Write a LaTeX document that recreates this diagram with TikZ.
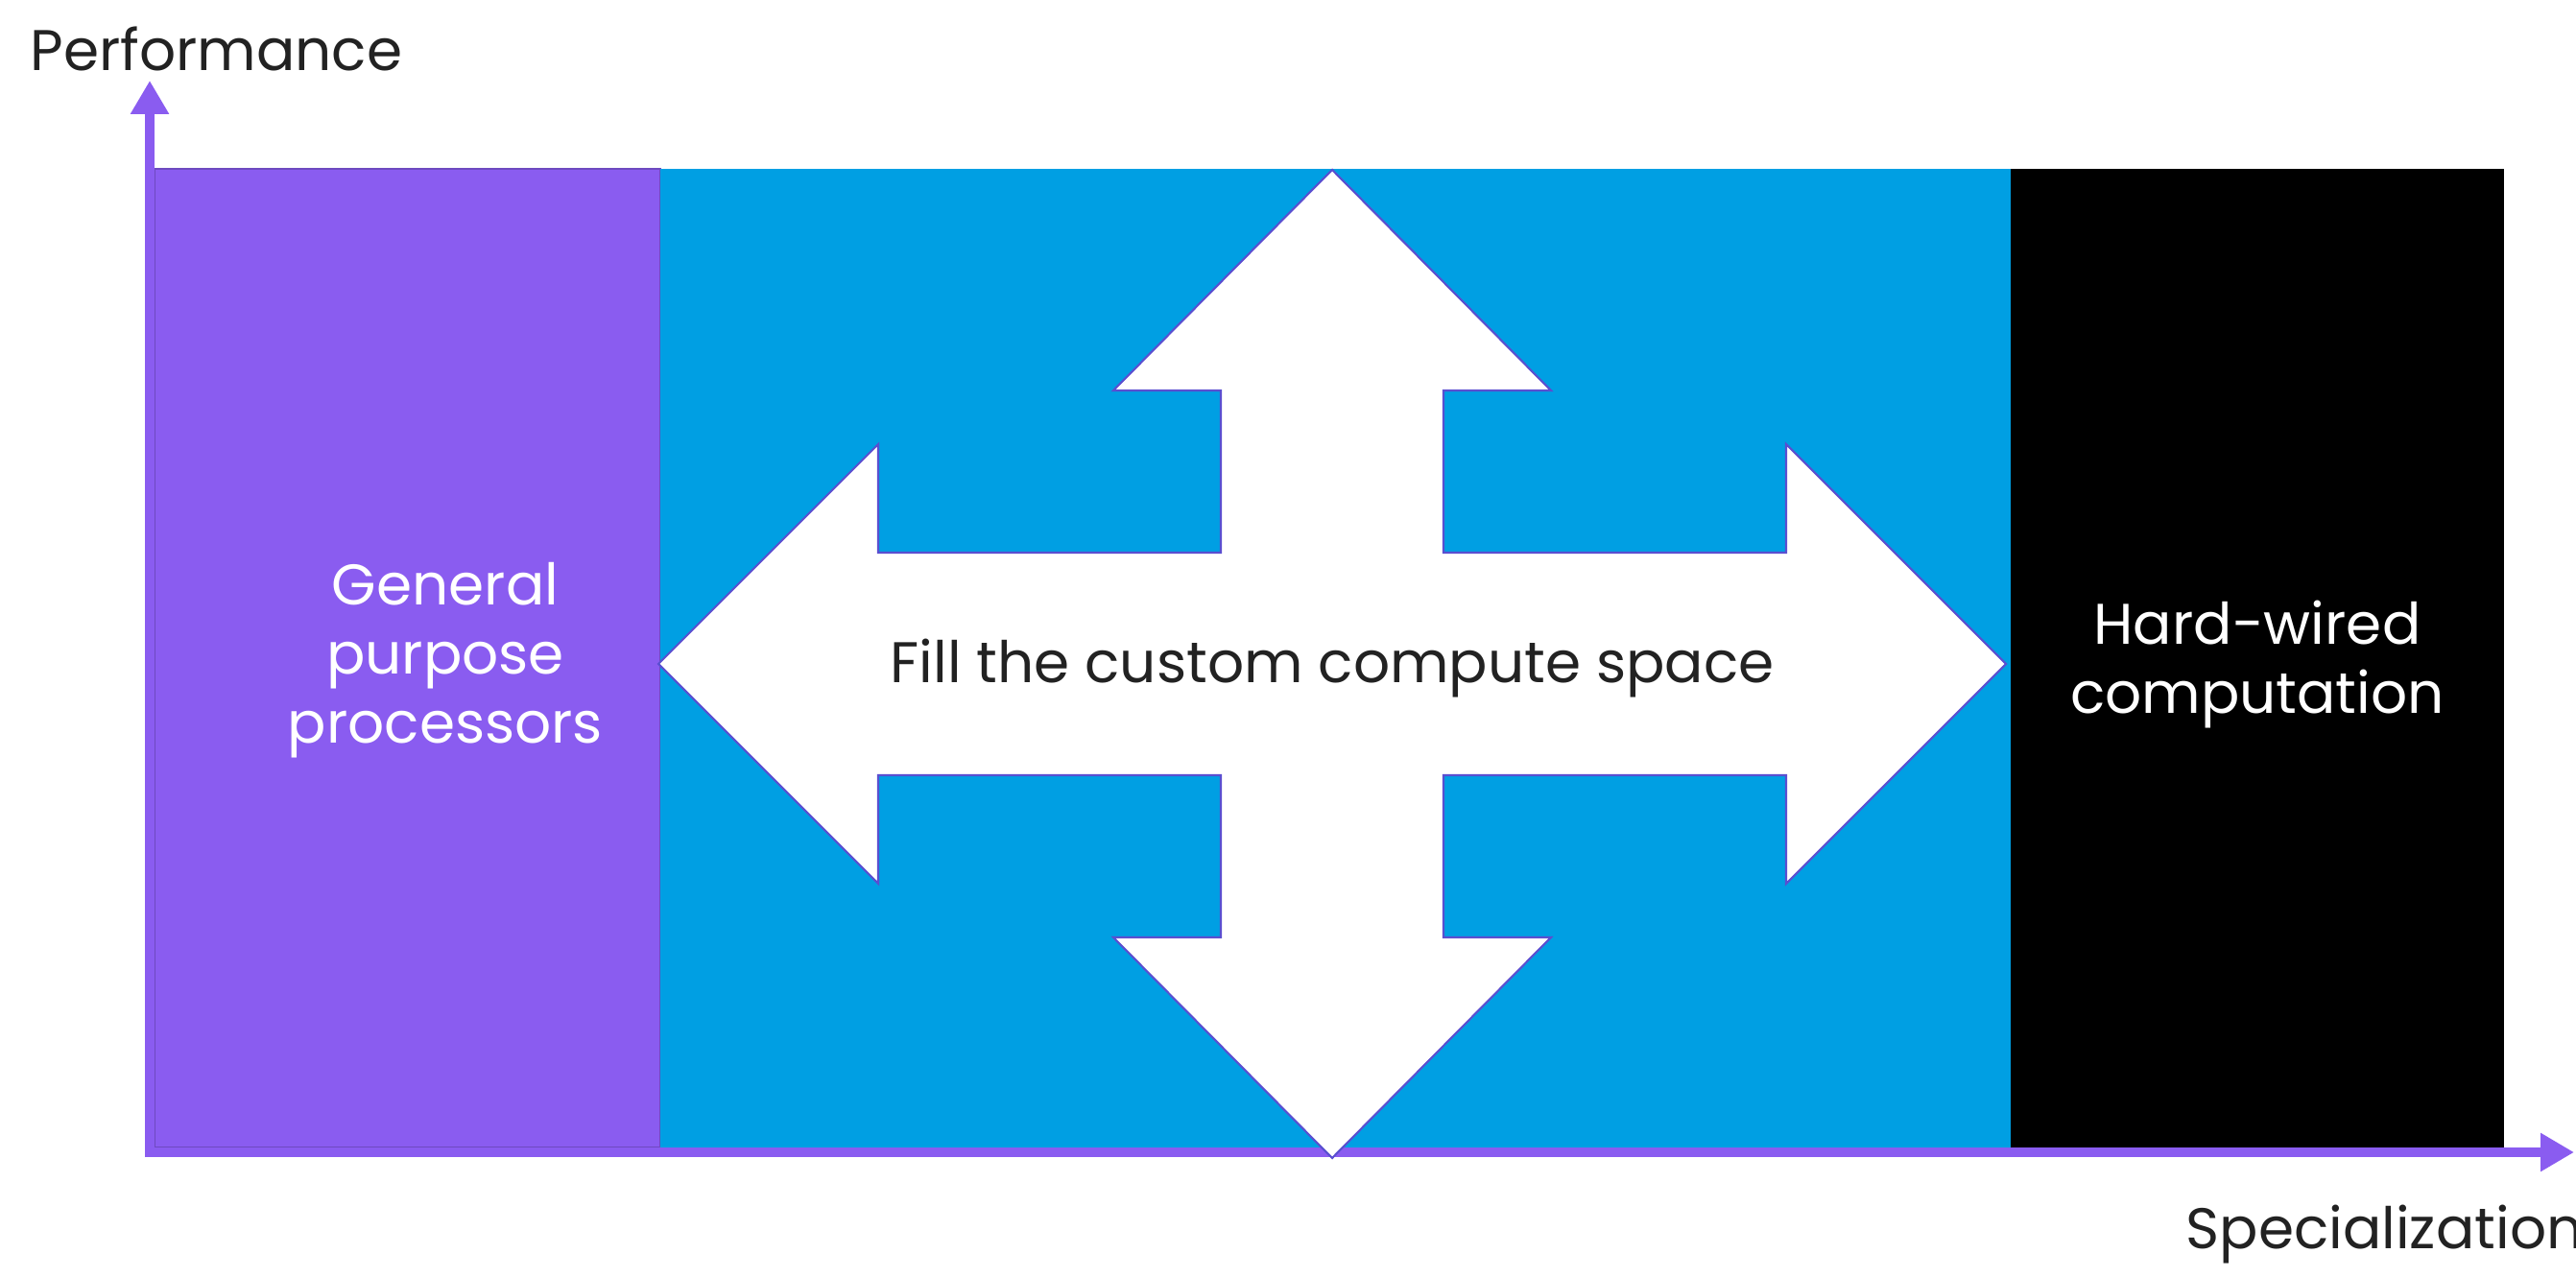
\documentclass[tikz,border=0pt]{standalone}
\usepackage{fontspec}
\setmainfont{Poppins}
\usetikzlibrary{arrows.meta,positioning}
\definecolor{violetax}{HTML}{8A5CF0}
\definecolor{bleuciel}{HTML}{009FE3}
\definecolor{contour}{HTML}{5A4FD0}
\definecolor{texte}{HTML}{222222}

\begin{document}
\begin{tikzpicture}[
    axe/.style={violetax,line width=3pt,-{Triangle[length=0.35cm,width=0.38cm]}},
    etiquette/.style={font=\fontsize{17}{20.5}\selectfont,texte,inner sep=0pt},
    zone/.style={etiquette,white,align=center}]
  \useasboundingbox (0,0) rectangle (26.84,13.30);
  % les trois zones
  \fill[violetax,draw=violetax!80!black,line width=0.4pt] (1.61,1.34) rectangle (6.88,11.54);
  \fill[bleuciel] (6.88,1.34) rectangle (20.95,11.54);
  \fill[black] (20.95,1.34) rectangle (26.09,11.54);
  % axes
  \coordinate (basy) at (1.56,1.24);
  \coordinate (hauty) at (1.56,12.46);
  \coordinate (gauchex) at (1.51,1.29);
  \coordinate (droitex) at (26.82,1.29);
  \draw[axe] (basy) -- (hauty);
  \draw[axe] (gauchex) -- (droitex);
  \node[etiquette,anchor=west] (perf) at (0.31,12.79) {Performance};
  \node[etiquette,anchor=west] (spec) at (22.77,0.43) {Specialization};
  % la croix
  \filldraw[fill=white,draw=contour,line width=0.6pt,line join=miter,shift={(13.88,6.38)}]
    (-7.02,0) -- (-4.73,2.29) -- (-4.73,1.16) -- (-1.16,1.16) -- (-1.16,2.85) -- (-2.28,2.85)
    -- (0,5.15) -- (2.28,2.85) -- (1.16,2.85) -- (1.16,1.16) -- (4.73,1.16) -- (4.73,2.29)
    -- (7.02,0) -- (4.73,-2.29) -- (4.73,-1.16) -- (1.16,-1.16) -- (1.16,-2.85) -- (2.28,-2.85)
    -- (0,-5.15) -- (-2.28,-2.85) -- (-1.16,-2.85) -- (-1.16,-1.16) -- (-4.73,-1.16) -- (-4.73,-2.29) -- cycle;
  \node[etiquette] (espace) at (13.88,6.33) {Fill the custom compute space};
  \node[zone] (gpp) at (4.64,6.42) {General\\purpose\\processors};
  \node[zone] (hw) at (23.52,6.37) {Hard-wired\\computation};
\end{tikzpicture}
\end{document}
